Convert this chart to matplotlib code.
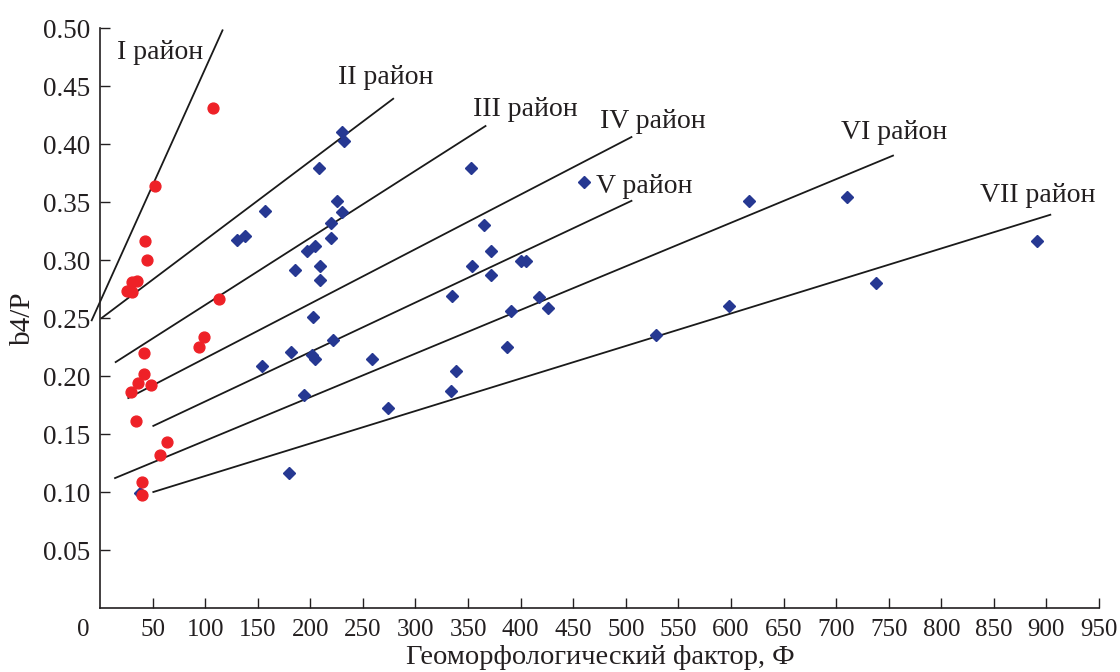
import numpy as np
import matplotlib.pyplot as plt

plt.rcParams['font.family'] = ['Liberation Serif', 'DejaVu Serif']

# red circles (I район)
red_x = [107.0, 52.6, 42.5, 44.4, 30.1, 34.9, 25.4, 30.7, 113.4, 98.8, 94.4,
         41.8, 42.1, 36.4, 48.5, 29.5, 33.9, 63.4, 57.4, 39.9, 39.9]
red_y = [0.431, 0.364, 0.316, 0.300, 0.281, 0.282, 0.273, 0.272, 0.266, 0.234, 0.225,
         0.220, 0.202, 0.194, 0.192, 0.186, 0.161, 0.143, 0.132, 0.109, 0.097]

# blue diamonds
blue_x = [229.7, 232.2, 208.5, 156.8, 129.9, 137.8, 225.6, 229.7, 219.6, 219.6,
          204.4, 196.5, 209.1, 185.4, 209.1, 202.2, 221.2, 181.9, 201.2, 204.4,
          154.0, 258.9, 193.9, 273.8, 179.3, 38.0, 352.7, 460.1, 365.3, 371.7,
          353.3, 371.7, 400.8, 405.5, 334.6, 417.9, 390.7, 426.1, 386.6, 338.4,
          334.0, 529.1, 616.9, 597.9, 710.7, 738.3, 891.0]
blue_y = [0.410, 0.403, 0.379, 0.342, 0.317, 0.321, 0.351, 0.341, 0.332, 0.319,
          0.312, 0.308, 0.295, 0.291, 0.283, 0.251, 0.231, 0.221, 0.218, 0.215,
          0.209, 0.215, 0.184, 0.172, 0.116, 0.099, 0.379, 0.367, 0.330, 0.308,
          0.295, 0.287, 0.299, 0.299, 0.269, 0.268, 0.256, 0.259, 0.225, 0.204,
          0.187, 0.235, 0.351, 0.260, 0.354, 0.280, 0.316]

# boundary lines: (x0, y0, x1, y1)
line_names = ['I', 'II', 'III', 'IV', 'V', 'VI', 'VII']
line_x0 = [-7.9, 1.6, 14.9, 26.9, 50.7, 14.3, 50.7]
line_y0 = [0.248, 0.250, 0.212, 0.181, 0.157, 0.112, 0.100]
line_x1 = [116.5, 278.8, 366.6, 505.4, 505.4, 754.1, 903.7]
line_y1 = [0.498, 0.439, 0.4155, 0.406, 0.351, 0.390, 0.339]

# label positions (left, baseline)
label_x = [15.9, 226.5, 354.9, 475.3, 472.1, 705.0, 836.5]
label_y = [0.473, 0.452, 0.4244, 0.4135, 0.3575, 0.4043, 0.3503]

x_ticks = list(range(50, 951, 50))
y_ticks = [0.05, 0.10, 0.15, 0.20, 0.25, 0.30, 0.35, 0.40, 0.45, 0.50]

fig = plt.figure(figsize=(11.2, 6.72), dpi=100)
ax = fig.add_axes([100 / 1120, 64 / 672, 999 / 1120, 580 / 672])

for i in range(len(line_names)):
    ax.plot([line_x0[i], line_x1[i]], [line_y0[i], line_y1[i]],
            color='#1a1a1a', linewidth=1.3, clip_on=False, zorder=2)
    ax.text(label_x[i], label_y[i], line_names[i] + ' район', fontsize=20,
            ha='left', va='baseline', color='#231f20')

ax.plot(blue_x, blue_y, linestyle='none', marker='D', markersize=5.8,
        color='#263892', zorder=3)
ax.plot(red_x, red_y, linestyle='none', marker='o', markersize=7.8,
        color='#ee2127', zorder=4)

ax.set_xlim(0, 950)
ax.set_ylim(0, 0.5)
ax.spines['top'].set_visible(False)
ax.spines['right'].set_visible(False)
for s in ['left', 'bottom']:
    ax.spines[s].set_linewidth(1.2)
    ax.spines[s].set_color('#231f20')

ax.set_xticks(x_ticks)
ax.set_yticks(y_ticks)
ax.set_yticklabels(['%.2f' % v for v in y_ticks])
ax.tick_params(direction='in', length=7, width=1.0, color='#231f20',
               labelcolor='#231f20')
ax.tick_params(axis='x', pad=8, labelsize=18)
ax.tick_params(axis='y', pad=7, labelsize=19.5)

fig.text(83 / 1120, 1 - 630 / 672, '0', fontsize=18, ha='center', va='center',
         color='#231f20')
fig.text(23 / 1120, 1 - 318 / 672, 'b4/P', fontsize=21, rotation=90,
         ha='center', va='center', color='#231f20')
fig.text(600 / 1120, 8 / 672, 'Геоморфологический фактор, Ф', fontsize=20.5,
         ha='center', va='baseline', color='#231f20')

fig.savefig('out.png', dpi=100)
